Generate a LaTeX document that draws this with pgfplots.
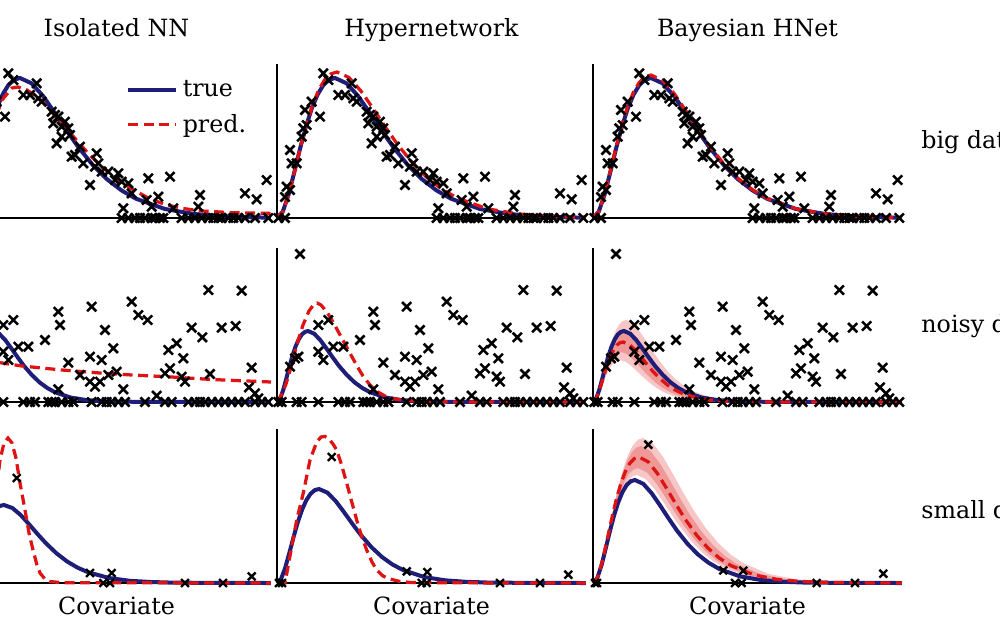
\documentclass[border=0pt]{standalone}
\usepackage{fontspec}
\setmainfont{DejaVu Serif}
\usepackage{pgfplots}
\usepackage{pgfplotstable}
\pgfplotsset{compat=1.18}

\definecolor{truecol}{RGB}{30,30,120}
\definecolor{predcol}{RGB}{222,20,20}
\definecolor{bandout}{RGB}{247,198,198}
\definecolor{bandin}{RGB}{238,152,152}

% scatter data, x = pixel offset along the axis, y = pixel height
\pgfplotstableread{
x y
1.3 0
8 0
8 21
13 28
9.7 31.3
13 68
14.7 54.7
19.7 54.7
24.7 81.3
26.3 89.7
29.7 93
28 108
34.7 116.3
43 101.3
46.3 144.7
51.3 138
61.3 123
68 123
74.7 134.7
76.3 119.7
79.7 116.3
89.7 106.3
93 103
96.3 101.3
91.3 94.7
99.7 91.3
103 96.3
106.3 89.7
94.7 74.7
99.7 81.3
108 83
109.7 61.3
113 63
118 71.3
121.3 54.7
128 33
133 51.3
134.7 64.7
136.3 54.7
139.7 46.3
146.3 46.3
153 38
156.3 44.7
159.7 36.3
166.3 34.7
169.7 24.7
161.3 9.7
186.3 39.7
184.7 18
189.7 11.3
196.3 21.3
208 41.3
211.3 9.7
238 23
236.3 11.3
283 24.7
294.7 18.7
304.7 38
159.7 0
166.3 0
173 0
178 0
183 0
189.7 0
193 0
198 0
201.3 0
219.7 0
226.3 0
233 0
239.7 0
246.3 0
251.3 0
256.3 0
259.7 0
266.3 0
271.3 0
276.3 0
283 0
293 0
306.3 0
}\bigdata

\pgfplotstableread{
x y
23 148
13 35.3
18 43.7
21.3 45.3
41.3 77
51.3 82
41.3 50.3
46.3 42
56.3 55.3
66.3 55.3
83 62
96.3 90.3
98 77
106.3 39.3
96.3 12.7
118 27
128 45.3
129.7 95.3
128 20.3
133 15.3
138 20.3
139.7 42
143 72
146.3 27
151.3 53.7
154.7 30.3
161.3 12.7
169.7 100.3
176.3 87
185.7 82
194.7 6.3
203 28.7
206.3 52
208 33.7
214.7 58.7
219.7 25.3
223 20.3
221.3 43.7
229.7 74.3
240.3 64.7
246.3 112
248 28
259.7 74.3
273.7 76
279.7 111.3
289.7 34.3
287 14.7
293 8.7
296.3 3.7
1.3 0
4.7 0
19.7 0
24.7 0
41.3 0
61.3 0
68 0
73 0
86.3 0
89.7 0
93 0
99.7 0
106.3 0
111.3 0
129.7 0
139.7 0
144.7 0
149.7 0
156.3 0
163 0
183 0
203 0
209.7 0
226.3 0
233 0
238 0
243 0
249.7 0
256.3 0
263 0
269.7 0
276.3 0
283 0
293 0
299.7 0
306.3 0
}\noisydata

\pgfplotsset{
  panel/.style={
    scale only axis, width=123.6pt, height=61.6pt,
    xmin=0, xmax=309, ymin=0, ymax=154,
    axis x line*=bottom, axis y line*=left,
    axis line style={-, black, line width=0.5pt},
    xtick=\empty, ytick=\empty,
    clip=false, anchor=south west,
  },
  truel/.style={truecol, line width=1.6pt},
  predl/.style={predcol, line width=1.3pt, dash pattern=on 4pt off 2.2pt},
  pts/.style={only marks, mark=x, black, mark size=2.6pt, mark options={line width=1pt}},
  ptsS/.style={only marks, mark=x, black, mark size=2.2pt, mark options={line width=0.95pt}},
}

\begin{document}
\fontsize{9.5}{11}\selectfont
\begin{tikzpicture}
\useasboundingbox (0,0) rectangle (400pt,-250pt);

% ---------- row 1: big data ----------
\begin{axis}[panel, at={(-15.2pt,-87.2pt)},
  legend style={draw=none, fill=none, at={(0.53,0.93)}, anchor=north west,
    inner sep=0pt, row sep=1.6pt, legend cell align=left,
    /tikz/every even column/.append style={column sep=4pt}},
  legend image code/.code={\draw[#1] (0pt,0pt) -- (19pt,0pt);}]
\addplot[truel] coordinates {(0,0) (5.8,6.4) (11.6,23.5) (17.4,46.2) (23.2,69.9) (29,91.6) (34.8,109.6) (40.6,123.5) (46.4,133) (52.2,138.3) (58,140) (69.6,134.7) (81.2,121.8) (92.8,105.1) (104.4,87.8) (116,71.3) (130.5,53.3) (145,38.8) (159.5,27.6) (174,19.3) (203,9) (232,4) (261,1.7) (290,0.7) (309,0.3)};
\addlegendentry{true}
\addplot[predl] coordinates {(0,0) (10,20) (20,55) (30,90) (40,118) (50,130) (56,131) (65,128) (80,117) (95,100) (110,83) (125,66) (140,51) (155,39) (170,29) (188,19) (205,13) (221,9.5) (240,7) (271,5.3) (305,4.7) (309,4.6)};
\addlegendentry{pred.}
\addplot[pts, forget plot] table {\bigdata};
\node[anchor=base, yshift=11.2pt] at (rel axis cs:0.5,1) {Isolated NN};
\end{axis}

\begin{axis}[panel, at={(110.8pt,-87.2pt)}]
\addplot[truel] coordinates {(0,0) (5.8,6.4) (11.6,23.5) (17.4,46.2) (23.2,69.9) (29,91.6) (34.8,109.6) (40.6,123.5) (46.4,133) (52.2,138.3) (58,140) (69.6,134.7) (81.2,121.8) (92.8,105.1) (104.4,87.8) (116,71.3) (130.5,53.3) (145,38.8) (159.5,27.6) (174,19.3) (203,9) (232,4) (261,1.7) (290,0.7) (309,0.3)};
\addplot[predl] coordinates {(0,0) (6,6.7) (12,24.5) (18,48.2) (24,72.9) (30,95.5) (36,114.3) (42,128.8) (48,138.7) (54,144.2) (60,146) (72,140.5) (84,127) (96,109.6) (108,91.5) (120,74.3) (135,55.6) (150,40.4) (165,28.8) (180,20.1) (210,9.3) (240,4.2) (270,1.8) (300,0.8) (309,0.6)};
\addplot[pts] table {\bigdata};
\node[anchor=base, yshift=11.2pt] at (rel axis cs:0.5,1) {Hypernetwork};
\end{axis}

\begin{axis}[panel, at={(237.2pt,-87.2pt)}]
\addplot[truel] coordinates {(0,0) (5.8,6.4) (11.6,23.5) (17.4,46.2) (23.2,69.9) (29,91.6) (34.8,109.6) (40.6,123.5) (46.4,133) (52.2,138.3) (58,140) (69.6,134.7) (81.2,121.8) (92.8,105.1) (104.4,87.8) (116,71.3) (130.5,53.3) (145,38.8) (159.5,27.6) (174,19.3) (203,9) (232,4) (261,1.7) (290,0.7) (309,0.3)};
\addplot[predl] coordinates {(0,0) (5.8,6.5) (11.6,24) (17.4,47.2) (23.2,71.4) (29,93.5) (34.8,112) (40.6,126.1) (46.4,135.8) (52.2,141.3) (58,143) (69.6,137.6) (81.2,124.4) (92.8,107.3) (104.4,89.7) (116,72.8) (130.5,54.4) (145,39.6) (159.5,28.2) (174,19.7) (203,9.2) (232,4.1) (261,1.8) (290,0.7) (309,0.3)};
\addplot[pts] table {\bigdata};
\node[anchor=base, yshift=11.2pt] at (rel axis cs:0.5,1) {Bayesian HNet};
\node[anchor=base west, xshift=4.4pt, yshift=28pt] at (rel axis cs:1,0) {big data};
\end{axis}

% ---------- row 2: noisy data ----------
\begin{axis}[panel, at={(-15.2pt,-160.8pt)}]
\addplot[truel] coordinates {(0,0) (3.1,3.2) (6.2,11.9) (9.3,23.4) (12.4,35.4) (15.5,46.4) (18.6,55.6) (21.7,62.6) (24.8,67.5) (27.9,70.1) (31,71) (37.2,68.3) (43.4,61.8) (49.6,53.3) (55.8,44.5) (62,36.1) (69.8,27.1) (77.5,19.7) (85.3,14) (93,9.8) (108.5,4.5) (124,2) (139.5,0.9) (155,0.4) (186,0.1) (309,0)};
\addplot[predl] coordinates {(0,0) (8,22) (16,36) (24,40.5) (32,40.5) (40,39) (60,36) (100,32) (138,29) (170,27) (205,25.3) (250,22.5) (309,20)};
\addplot[pts] table {\noisydata};
\end{axis}

\begin{axis}[panel, at={(110.8pt,-160.8pt)}]
\addplot[truel] coordinates {(0,0) (3.1,3.2) (6.2,11.9) (9.3,23.4) (12.4,35.4) (15.5,46.4) (18.6,55.6) (21.7,62.6) (24.8,67.5) (27.9,70.1) (31,71) (37.2,68.3) (43.4,61.8) (49.6,53.3) (55.8,44.5) (62,36.1) (69.8,27.1) (77.5,19.7) (85.3,14) (93,9.8) (108.5,4.5) (124,2) (139.5,0.9) (155,0.4) (186,0.1) (309,0)};
\addplot[predl] coordinates {(0,0) (5,8) (9,18) (14,35) (20,58) (26,77) (32,91) (37,98) (40,99) (44,97) (50,90) (56,80) (62,69) (68,58) (74,47) (80,36) (86,26) (93,17) (100,10.5) (108,6) (118,3) (130,1.5) (150,0.5) (175,0.1) (309,0)};
\addplot[pts] table {\noisydata};
\end{axis}

\begin{axis}[panel, at={(237.2pt,-160.8pt)}]
\addplot[fill=bandout, draw=none] coordinates {(0,0) (3.3,3.7) (6.6,13.8) (9.9,27.1) (13.2,40.9) (16.5,53.6) (19.8,64.2) (23.1,72.3) (26.4,77.9) (29.7,81) (33,82) (39.6,78.9) (46.2,71.3) (52.8,61.6) (59.4,51.4) (66,41.7) (74.3,31.2) (82.5,22.7) (90.8,16.2) (99,11.3) (115.5,5.2) (132,2.4) (148.5,1) (165,0.4) (198,0.1)
  (162,0) (135,0.2) (121.5,0.5) (108,1.2) (94.5,2.7) (81,5.8) (74.3,8.3) (67.5,11.6) (60.8,16) (54,21.4) (48.6,26.3) (43.2,31.5) (37.8,36.5) (32.4,40.4) (27,42) (24.3,41.5) (21.6,39.9) (18.9,37) (16.2,32.9) (13.5,27.5) (10.8,21) (8.1,13.9) (5.4,7.1) (2.7,1.9) (0,0)};
\addplot[fill=bandin, draw=none] coordinates {(0,0) (3.2,3.2) (6.4,11.8) (9.6,23.1) (12.8,34.9) (16,45.8) (19.2,54.8) (22.4,61.7) (25.6,66.5) (28.8,69.2) (32,70) (38.4,67.3) (44.8,60.9) (51.2,52.6) (57.6,43.9) (64,35.6) (72,26.7) (80,19.4) (88,13.8) (96,9.7) (112,4.5) (128,2) (144,0.9) (160,0.4) (192,0.1)
  (168,0) (140,0.3) (126,0.6) (112,1.4) (98,3.2) (84,6.9) (77,9.9) (70,13.9) (63,19) (56,25.5) (50.4,31.4) (44.8,37.6) (39.2,43.5) (33.6,48.1) (28,50) (25.2,49.4) (22.4,47.5) (19.6,44.1) (16.8,39.2) (14,32.7) (11.2,25) (8.4,16.5) (5.6,8.4) (2.8,2.3) (0,0)};
\addplot[truel] coordinates {(0,0) (3.1,3.2) (6.2,11.9) (9.3,23.4) (12.4,35.4) (15.5,46.4) (18.6,55.6) (21.7,62.6) (24.8,67.5) (27.9,70.1) (31,71) (37.2,68.3) (43.4,61.8) (49.6,53.3) (55.8,44.5) (62,36.1) (69.8,27.1) (77.5,19.7) (85.3,14) (93,9.8) (108.5,4.5) (124,2) (139.5,0.9) (155,0.4) (186,0.1) (309,0)};
\addplot[predl] coordinates {(0,0) (3,2.7) (6,10.1) (9,19.8) (12,29.9) (15,39.2) (18,47) (21,52.9) (24,57) (27,59.3) (30,60) (36,57.7) (42,52.2) (48,45.1) (54,37.6) (60,30.5) (67.5,22.9) (75,16.6) (82.5,11.8) (90,8.3) (105,3.8) (120,1.7) (135,0.7) (150,0.3) (180,0.05) (309,0)};
\addplot[pts] table {\noisydata};
\node[anchor=base west, xshift=4.4pt, yshift=28pt] at (rel axis cs:1,0) {noisy data};
\end{axis}

% ---------- row 3: small data ----------
\begin{axis}[panel, at={(-15.2pt,-233.2pt)}]
\addplot[truel] coordinates {(0,0) (4.2,3.6) (8.4,13.1) (12.6,25.7) (16.8,38.9) (21,51) (25.2,61.1) (29.4,68.8) (33.6,74.1) (37.8,77.1) (42,78) (50.4,75) (58.8,67.9) (67.2,58.6) (75.6,48.9) (84,39.7) (94.5,29.7) (105,21.6) (115.5,15.4) (126,10.8) (147,5) (168,2.2) (189,1) (210,0.4) (252,0.1) (309,0)};
\addplot[predl] coordinates {(0,0) (10,5) (20,20) (28,50) (34,90) (38,123) (42,140) (46,145) (50,140) (54,125) (58,100) (63,73) (67,50) (71,33) (75,18) (78,10) (83,4) (88,1.5) (100,0.3) (309,0)};
\addplot[ptsS] coordinates {(4.7,0) (54.7,105) (128,10) (149.7,10) (141.3,0) (148,0) (223,0) (261,0) (289.7,6.6)};
\node[anchor=base, yshift=-12.4pt] at (rel axis cs:0.5,0) {Covariate};
\end{axis}

\begin{axis}[panel, at={(110.8pt,-233.2pt)}]
\addplot[truel] coordinates {(0,0) (4.2,4.3) (8.4,15.8) (12.6,31) (16.8,46.9) (21,61.5) (25.2,73.6) (29.4,82.9) (33.6,89.3) (37.8,92.9) (42,94) (50.4,90.4) (58.8,81.8) (67.2,70.6) (75.6,58.9) (84,47.8) (94.5,35.8) (105,26) (115.5,18.5) (126,13) (147,6) (168,2.7) (189,1.2) (210,0.5) (252,0.1) (309,0)};
\addplot[predl] coordinates {(0,0) (8,0) (13,27) (19.7,63) (26.3,90) (33,123) (39.7,141) (44,146) (48,146.6) (52,144) (56,139) (59.7,133) (64,120) (69.7,100) (74.5,82) (79.7,63) (84.5,47) (89.7,33) (95,21) (99.7,13) (106,7) (113,4) (123,1.5) (133,0.6) (150,0.2) (309,0)};
\addplot[ptsS] coordinates {(2,0) (5,0) (54.7,126) (129.7,11.6) (150.3,11) (144.7,0) (149.7,0) (223,0) (263,0) (291.3,8.3)};
\node[anchor=base, yshift=-12.4pt] at (rel axis cs:0.5,0) {Covariate};
\end{axis}

\begin{axis}[panel, at={(237.2pt,-233.2pt)}]
\addplot[fill=bandout, draw=none] coordinates {(0,0) (5,6.6) (10,24.4) (15,47.9) (20,72.4) (25,94.8) (30,113.5) (35,127.9) (40,137.8) (45,143.3) (50,145) (60,139.5) (70,126.2) (80,108.9) (90,90.9) (100,73.8) (112.5,55.2) (125,40.2) (137.5,28.6) (150,20) (175,9.3) (200,4.2) (225,1.8) (250,0.8)
  (220,0.6) (198,1.3) (176,3.1) (154,6.9) (132,14.9) (121,21.3) (110,29.9) (99,41.1) (88,55) (79.2,67.7) (70.4,81.1) (61.6,94) (52.8,103.9) (44,108) (39.6,106.7) (35.2,102.6) (30.8,95.3) (26.4,84.6) (22,70.6) (17.6,53.9) (13.2,35.6) (8.8,18.1) (4.4,4.9) (0,0)};
\addplot[fill=bandin, draw=none] coordinates {(0,0) (4.8,6.3) (9.6,23) (14.4,45.2) (19.2,68.4) (24,89.6) (28.8,107.3) (33.6,120.8) (38.4,130.2) (43.2,135.4) (48,137) (57.6,131.8) (67.2,119.2) (76.8,102.9) (86.4,85.9) (96,69.7) (108,52.2) (120,37.9) (132,27) (144,18.9) (168,8.8) (192,3.9) (216,1.7) (240,0.7)
  (225,0.6) (202.5,1.4) (180,3.3) (157.5,7.4) (135,15.9) (123.8,22.7) (112.5,31.9) (101.3,43.8) (90,58.5) (81,72.1) (72,86.4) (63,100.1) (54,110.6) (45,115) (40.5,113.6) (36,109.3) (31.5,101.4) (27,90) (22.5,75.2) (18,57.4) (13.5,38) (9,19.3) (4.5,5.3) (0,0)};
\addplot[truel] coordinates {(0,0) (4.2,4.7) (8.4,17.3) (12.6,34) (16.8,51.4) (21,67.4) (25.2,80.6) (29.4,90.8) (33.6,97.9) (37.8,101.8) (42,103) (50.4,99.1) (58.8,89.6) (67.2,77.4) (75.6,64.6) (84,52.4) (94.5,39.2) (105,28.5) (115.5,20.3) (126,14.2) (147,6.6) (168,3) (189,1.3) (210,0.5) (252,0.1) (309,0)};
\addplot[predl] coordinates {(0,0) (4.6,5.8) (9.2,21.2) (13.8,41.6) (18.4,62.9) (23,82.4) (27.6,98.7) (32.2,111.1) (36.8,119.7) (41.4,124.5) (46,126) (55.2,121.2) (64.4,109.6) (73.6,94.6) (82.8,79) (92,64.1) (103.5,48) (115,34.9) (126.5,24.8) (138,17.4) (161,8.1) (184,3.6) (207,1.6) (230,0.7) (276,0.1) (309,0)};
\addplot[ptsS] coordinates {(2,0) (4,0) (55.3,138.3) (130.3,12.6) (150.3,12.3) (142,0) (148.7,0) (223.7,0) (262,0) (290.3,9.3)};
\node[anchor=base, yshift=-12.4pt] at (rel axis cs:0.5,0) {Covariate};
\node[anchor=base west, xshift=4.4pt, yshift=26pt] at (rel axis cs:1,0) {small data};
\end{axis}
\end{tikzpicture}
\end{document}
